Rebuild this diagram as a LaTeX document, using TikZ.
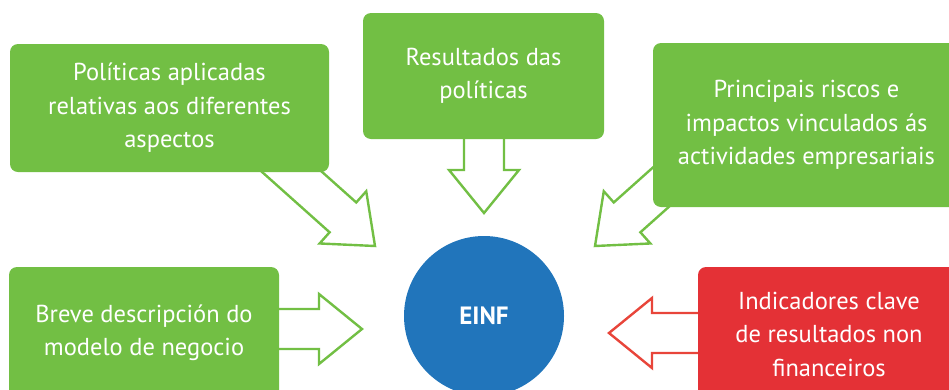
\documentclass[tikz,border=0pt]{standalone}
\usepackage{fontspec}
\setmainfont{PT Sans}
\usetikzlibrary{calc}
\definecolor{verde}{HTML}{72BF44}
\definecolor{azul}{HTML}{2175BB}
\definecolor{vermello}{HTML}{E43136}
\definecolor{vermellof}{HTML}{E8453A}
\tikzset{
    caixa/.style={fill=#1, text=white, rounded corners=8pt, align=center,
        inner sep=0pt, font=\fontsize{24.5}{33.5}\selectfont},
    frecha/.style={draw=#1, fill=white, line width=2.4pt, line join=miter,
        to path={($(\tikztostart)!20pt!90:(\tikztotarget)$)
            -- ($(\tikztotarget)!47.43pt!-24.94:(\tikztostart)$)
            -- ($(\tikztotarget)!55.44pt!-39.14:(\tikztostart)$)
            -- (\tikztotarget)
            -- ($(\tikztotarget)!55.44pt!39.14:(\tikztostart)$)
            -- ($(\tikztotarget)!47.43pt!24.94:(\tikztostart)$)
            -- ($(\tikztostart)!20pt!-90:(\tikztotarget)$) -- cycle}}
}
\begin{document}
\begin{tikzpicture}[x=1pt, y=-1pt]
    \useasboundingbox (0,0) rectangle (949,389);
    \clip (0,0) rectangle (949,389);

    % Frechas
    \coordinate (ta1) at (263,146);  \coordinate (pa1) at (375,246);
    \coordinate (ta2) at (484,120);  \coordinate (pa2) at (484,213);
    \coordinate (ta3) at (707,146);  \coordinate (pa3) at (595,246);
    \coordinate (ta4) at (250,329);  \coordinate (pa4) at (362,329);
    \coordinate (ta5) at (720,333);  \coordinate (pa5) at (609,333);
    \foreach \a/\b/\c in {ta1/pa1/verde, ta2/pa2/verde, ta3/pa3/verde,
        ta4/pa4/verde, ta5/pa5/vermellof} {
        \draw[frecha=\c] (\a) to (\b);
    }

    % Caixas
    \node[caixa=verde, minimum width=319pt, minimum height=128pt] (pol) at (169.5,108)
        {Políticas aplicadas\\relativas aos diferentes\\aspectos};
    \node[caixa=verde, minimum width=241pt, minimum height=126pt] (res) at (483.5,76)
        {Resultados das\\políticas};
    \node[caixa=verde, minimum width=307pt, minimum height=164pt] (ris) at (806.5,125)
        {Principais riscos e\\impactos vinculados ás\\actividades empresariais};
    \node[caixa=verde, minimum width=270pt, minimum height=132pt] (mod) at (144,333)
        {Breve descripción do\\modelo de negocio};
    \node[caixa=vermello, minimum width=262pt, minimum height=134pt] (ind) at (829,334)
        {Indicadores clave\\de resultados non\\financeiros};

    % EINF
    \node[circle, fill=azul, text=white, minimum size=160pt,
        font=\fontsize{25}{30}\selectfont\bfseries] (einf) at (484,316) {EINF};
\end{tikzpicture}
\end{document}
